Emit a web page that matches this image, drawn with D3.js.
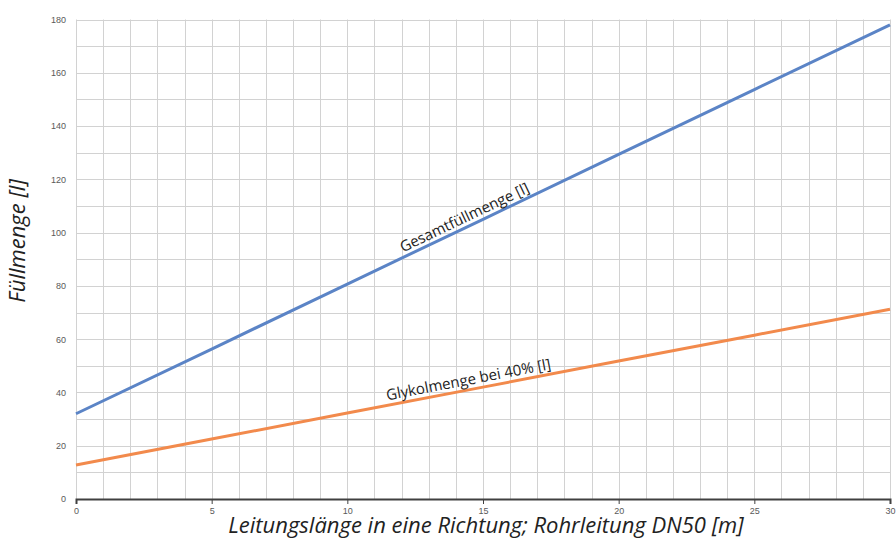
<!DOCTYPE html>
<html>
<head>
<meta charset="utf-8">
<script src="https://cdn.jsdelivr.net/npm/d3@7"></script>
<style>
  body { margin: 0; background: #fff; }
  svg { display: block; font-family: "Open Sans", "Noto Sans", sans-serif; }
</style>
</head>
<body>
<svg width="896" height="540"></svg>
<script>
// data
var lengths = [0, 5, 10, 15, 20, 25, 30];
var totalFill = [32.0, 56.3, 80.7, 105.0, 129.4, 153.7, 178.0];
var glycolFill = [12.8, 22.5, 32.3, 42.0, 51.8, 61.5, 71.2];
var xTicks = [0, 5, 10, 15, 20, 25, 30];
var yTicks = [0, 20, 40, 60, 80, 100, 120, 140, 160, 180];
var seriesNames = ["Gesamtfüllmenge [l]", "Glykolmenge bei 40% [l]"];

var svg = d3.select("svg");
var plotLeft = 76, plotRight = 890, plotTop = 19.5, plotBottom = 499;

var x = d3.scaleLinear().domain([0, 30]).range([plotLeft, plotRight]);
var y = d3.scaleLinear().domain([0, 180]).range([plotBottom, plotTop]);

// grid
var grid = svg.append("g");
grid.selectAll("line.v").data(d3.range(0, 31, 1))
    .enter().append("line")
    .attr("x1", d => Math.round(x(d)) + 0.5).attr("x2", d => Math.round(x(d)) + 0.5)
    .attr("y1", plotTop).attr("y2", plotBottom)
    .attr("stroke", "#d2d2d2").attr("stroke-width", 1);
grid.selectAll("line.h").data(d3.range(10, 181, 10))
    .enter().append("line")
    .attr("y1", d => Math.round(y(d)) + 0.5).attr("y2", d => Math.round(y(d)) + 0.5)
    .attr("x1", plotLeft).attr("x2", plotRight)
    .attr("stroke", "#d2d2d2").attr("stroke-width", 1);

// x axis
var xAxis = svg.append("g")
    .attr("transform", "translate(0," + plotBottom + ")")
    .call(d3.axisBottom(x).tickValues(xTicks).tickSize(5).tickPadding(4));
xAxis.select(".domain").attr("stroke", "#404040").attr("stroke-width", 2);
xAxis.selectAll(".tick line").attr("stroke", "#404040");
xAxis.selectAll("text").attr("fill", "#595959").style("font-size", "9px");

// y axis labels
var yAxis = svg.append("g")
    .attr("transform", "translate(" + plotLeft + ",0)")
    .call(d3.axisLeft(y).tickValues(yTicks).tickSize(0).tickPadding(10));
yAxis.select(".domain").remove();
yAxis.selectAll("text").attr("fill", "#595959").style("font-size", "9px");

// lines
var line = d3.line().x((d, i) => x(lengths[i])).y(d => y(d));
svg.append("path").datum(totalFill)
    .attr("d", line).attr("fill", "none")
    .attr("stroke", "#5b84c6").attr("stroke-width", 3);
svg.append("path").datum(glycolFill)
    .attr("d", line).attr("fill", "none")
    .attr("stroke", "#f28a4c").attr("stroke-width", 3);

// line labels
function angleOf(vals) {
    var dx = x(30) - x(0), dy = y(vals[6]) - y(vals[0]);
    return Math.atan2(dy, dx) * 180 / Math.PI;
}
function labelAt(vals, xv, name) {
    var i0 = Math.floor(xv / 5), t = (xv - lengths[i0]) / 5;
    var v = vals[i0] + (vals[i0 + 1] - vals[i0]) * t;
    svg.append("text")
        .attr("transform", "translate(" + x(xv) + "," + (y(v) - 5) + ") rotate(" + angleOf(vals) + ")")
        .attr("text-anchor", "middle")
        .attr("fill", "#222")
        .style("font-size", "15px")
        .text(name);
}
labelAt(totalFill, 14.4, seriesNames[0]);
labelAt(glycolFill, 14.5, seriesNames[1]);

// axis titles
svg.append("text")
    .attr("transform", "translate(25,241) rotate(-90)")
    .attr("text-anchor", "middle")
    .attr("fill", "#222")
    .style("font-size", "22px").style("font-style", "italic")
    .text("Füllmenge [l]");
svg.append("text")
    .attr("x", 486).attr("y", 533)
    .attr("text-anchor", "middle")
    .attr("fill", "#222")
    .style("font-size", "22px").style("font-style", "italic")
    .text("Leitungslänge in eine Richtung; Rohrleitung DN50 [m]");
</script>
</body>
</html>
